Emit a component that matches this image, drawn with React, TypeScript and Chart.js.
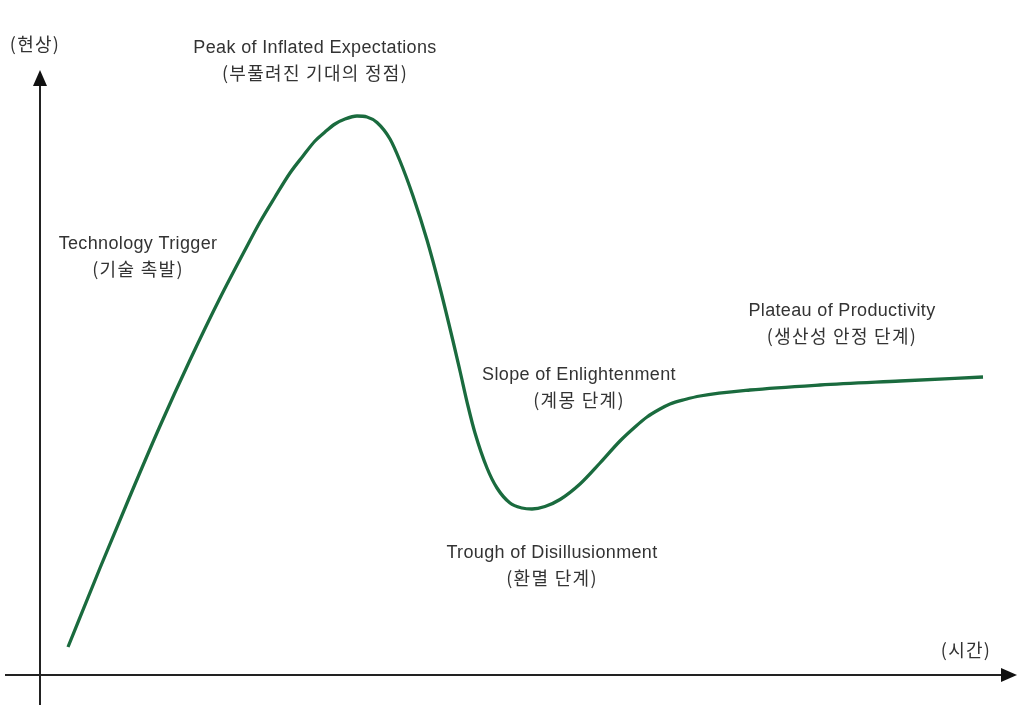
import React, { useEffect, useRef } from "react";
import { Chart, registerables } from "chart.js";

Chart.register(...registerables);

// Hype cycle curve: x = time (px from vertical axis), y = visibility (px above horizontal axis)
const curveX = [28, 60, 90, 120, 150, 180, 205, 220, 235, 250, 263, 275, 285, 295, 305, 317, 327, 337, 350, 360, 373, 387, 400, 413, 420, 428, 435, 447, 457, 470, 482, 492, 505, 520, 540, 560, 580, 595, 607, 620, 630, 645, 660, 710, 780, 860, 943];
const curveY = [28, 107, 179, 249, 315, 377, 425, 453, 478, 502, 519, 534, 543, 551, 556, 559, 558, 552.5, 536, 514, 479, 435, 387, 334, 304, 269, 242, 207, 187, 172, 167, 166, 168.5, 175.5, 191, 212, 234, 248, 258, 266, 271, 275.5, 279, 285, 290, 294, 298];

const axisXRange = [-35, 977];
const axisYRange = [-30, 605];

const labelLines = [
  ["Peak of Inflated Expectations", "(부풀려진 기대의 정점)"],
  ["Technology Trigger", "(기술 촉발)"],
  ["Plateau of Productivity", "(생산성 안정 단계)"],
  ["Slope of Enlightenment", "(계몽 단계)"],
  ["Trough of Disillusionment", "(환멸 단계)"],
  ["(현상)"],
  ["(시간)"],
];
const labelX = [275, 98, 802, 539, 512, -5, 926];
const labelY = [627, 431, 364, 300, 122, 631, 25];

const LATIN_FONT = '18px "Liberation Sans", "Noto Sans CJK KR", sans-serif';
const KOREAN_FONT = '18px "Noto Sans CJK KR", sans-serif';

const overlayPlugin = {
  id: "overlay",
  afterDatasetsDraw(chart: any) {
    const { ctx, scales } = chart;
    const xs = scales.x;
    const ys = scales.y;
    const px = (v: number) => xs.getPixelForValue(v);
    const py = (v: number) => ys.getPixelForValue(v);
    ctx.save();
    ctx.strokeStyle = "#222";
    ctx.fillStyle = "#111";
    ctx.lineWidth = 2;
    // horizontal axis
    const hx0 = px(axisXRange[0]);
    const hx1 = px(axisXRange[1]);
    const hy = py(0);
    ctx.beginPath();
    ctx.moveTo(hx0, hy);
    ctx.lineTo(hx1 - 14, hy);
    ctx.stroke();
    ctx.beginPath();
    ctx.moveTo(hx1, hy);
    ctx.lineTo(hx1 - 16, hy - 7);
    ctx.lineTo(hx1 - 16, hy + 7);
    ctx.closePath();
    ctx.fill();
    // vertical axis
    const vx = px(0);
    const vy0 = py(axisYRange[0]);
    const vy1 = py(axisYRange[1]);
    ctx.beginPath();
    ctx.moveTo(vx, vy0);
    ctx.lineTo(vx, vy1 + 14);
    ctx.stroke();
    ctx.beginPath();
    ctx.moveTo(vx, vy1);
    ctx.lineTo(vx - 7, vy1 + 16);
    ctx.lineTo(vx + 7, vy1 + 16);
    ctx.closePath();
    ctx.fill();
    // labels
    ctx.fillStyle = "#333";
    ctx.textAlign = "center";
    ctx.textBaseline = "middle";
    labelLines.forEach((lines, i) => {
      const cx = px(labelX[i]);
      const cy = py(labelY[i]);
      lines.forEach((t, j) => {
        const korean = t.startsWith("(");
        ctx.font = korean ? KOREAN_FONT : LATIN_FONT;
        (ctx as any).letterSpacing = korean ? "1.3px" : "0.35px";
        ctx.fillText(t, cx, cy + j * 25);
      });
    });
    ctx.restore();
  },
};

export default function App() {
  const ref = useRef<HTMLCanvasElement>(null);
  useEffect(() => {
    document.body.style.margin = "0";
    const chart = new Chart(ref.current!, {
      type: "line",
      data: {
        datasets: [
          {
            data: curveX.map((x, i) => ({ x, y: curveY[i] })),
            borderColor: "#1a6b3e",
            borderWidth: 3.3,
            pointRadius: 0,
            cubicInterpolationMode: "monotone",
            fill: false,
          },
        ],
      },
      options: {
        animation: false,
        responsive: false,
        maintainAspectRatio: false,
        layout: { padding: 0 },
        plugins: { legend: { display: false }, tooltip: { enabled: false }, title: { display: false } },
        scales: {
          x: { type: "linear", min: -40, max: 989, display: false },
          y: { type: "linear", min: -39, max: 675, display: false },
        },
      },
      plugins: [overlayPlugin],
    });
    return () => chart.destroy();
  }, []);
  return (
    <div style={{ width: 1029, height: 714, background: "#fff" }}>
      <canvas ref={ref} width={1029} height={714} />
    </div>
  );
}
